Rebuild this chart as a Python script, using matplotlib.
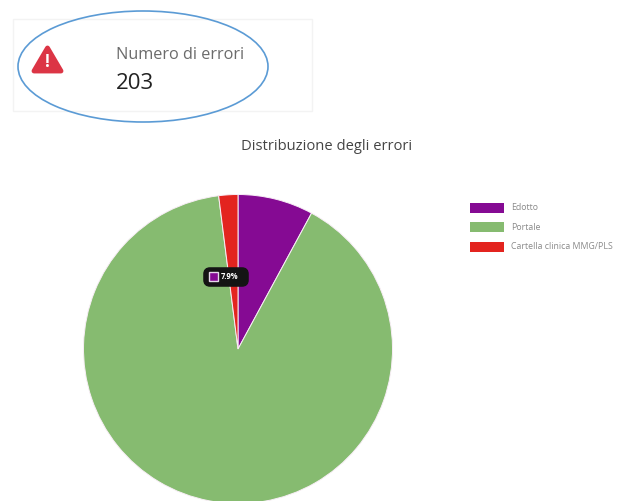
import matplotlib
matplotlib.use("Agg")
import matplotlib.pyplot as plt
from matplotlib.patches import Ellipse, FancyBboxPatch, Polygon, Rectangle

W, H = 630, 501
categories = ["Edotto", "Portale", "Cartella clinica MMG/PLS"]
shares = [7.9, 90.1, 2.0]
colors = ["#850a93", "#86bb70", "#e3241f"]
card_label = "Numero di errori"
card_value = "203"
chart_title = "Distribuzione degli errori"
tooltip_text = "7.9%"

plt.rcParams["font.family"] = ["Open Sans", "DejaVu Sans"]
fig = plt.figure(figsize=(W / 100, H / 100), dpi=100, facecolor="white")

# Overlay in pixel units for the card, tooltip and legend
page = fig.add_axes([0, 0, 1, 1], zorder=1)
page.set_xlim(0, W)
page.set_ylim(H, 0)
page.axis("off")
page.patch.set_alpha(0)

# Pie occupies its own square axes
cx, cy, r = 238, 349, 154.5
pie_ax = fig.add_axes([(cx - r) / W, 1 - (cy + r) / H, 2 * r / W, 2 * r / H], zorder=0)
pie_ax.pie(shares, colors=colors, startangle=90, counterclock=False, radius=1,
           wedgeprops=dict(edgecolor="#f8eef6", linewidth=0.7))
pie_ax.set_xlim(-1, 1)
pie_ax.set_ylim(-1, 1)
pie_ax.set_clip_on(False)

# Summary card
page.add_patch(Rectangle((13, 19), 299, 92, facecolor="white", edgecolor="#f3f3f3", linewidth=1))
page.add_patch(Ellipse((143, 66.5), 250, 111, facecolor="none", edgecolor="#5b9bd5", linewidth=1.2))
page.add_patch(Polygon([(47.5, 48), (61, 71), (34, 71)], closed=True, facecolor="#dc3545",
                       edgecolor="#dc3545", linewidth=3.5, joinstyle="round"))
page.text(47.5, 61.5, "!", color="white", fontsize=12, fontweight="bold", ha="center", va="center")
page.text(116, 55, card_label, fontsize=11.7, color="#6b6b6b", va="center", ha="left")
page.text(116, 83, card_value, fontsize=16, color="#222222", va="center", ha="left")

page.text(327, 146.5, chart_title, fontsize=10.6, color="#444444", ha="center", va="center")

# Hover tooltip on the first slice
page.add_patch(FancyBboxPatch((206, 270), 40, 14, boxstyle="round,pad=0,rounding_size=4",
                              facecolor="#141414", edgecolor="#141414", linewidth=4))
page.add_patch(Rectangle((209, 272), 9, 9, facecolor="#850a93", edgecolor="#e6d8ea", linewidth=1))
page.text(221, 276.5, tooltip_text, fontsize=5.5, color="white", fontweight="bold", va="center", ha="left")

# Legend
for i, (name, color) in enumerate(zip(categories, colors)):
    y = 208 + 19.3 * i
    page.add_patch(Rectangle((470, y - 5), 34, 10, facecolor=color, edgecolor="none"))
    page.text(511, y, name, fontsize=6.3, color="#8a8a8a", va="center", ha="left")

fig.savefig("out.png", dpi=100)
